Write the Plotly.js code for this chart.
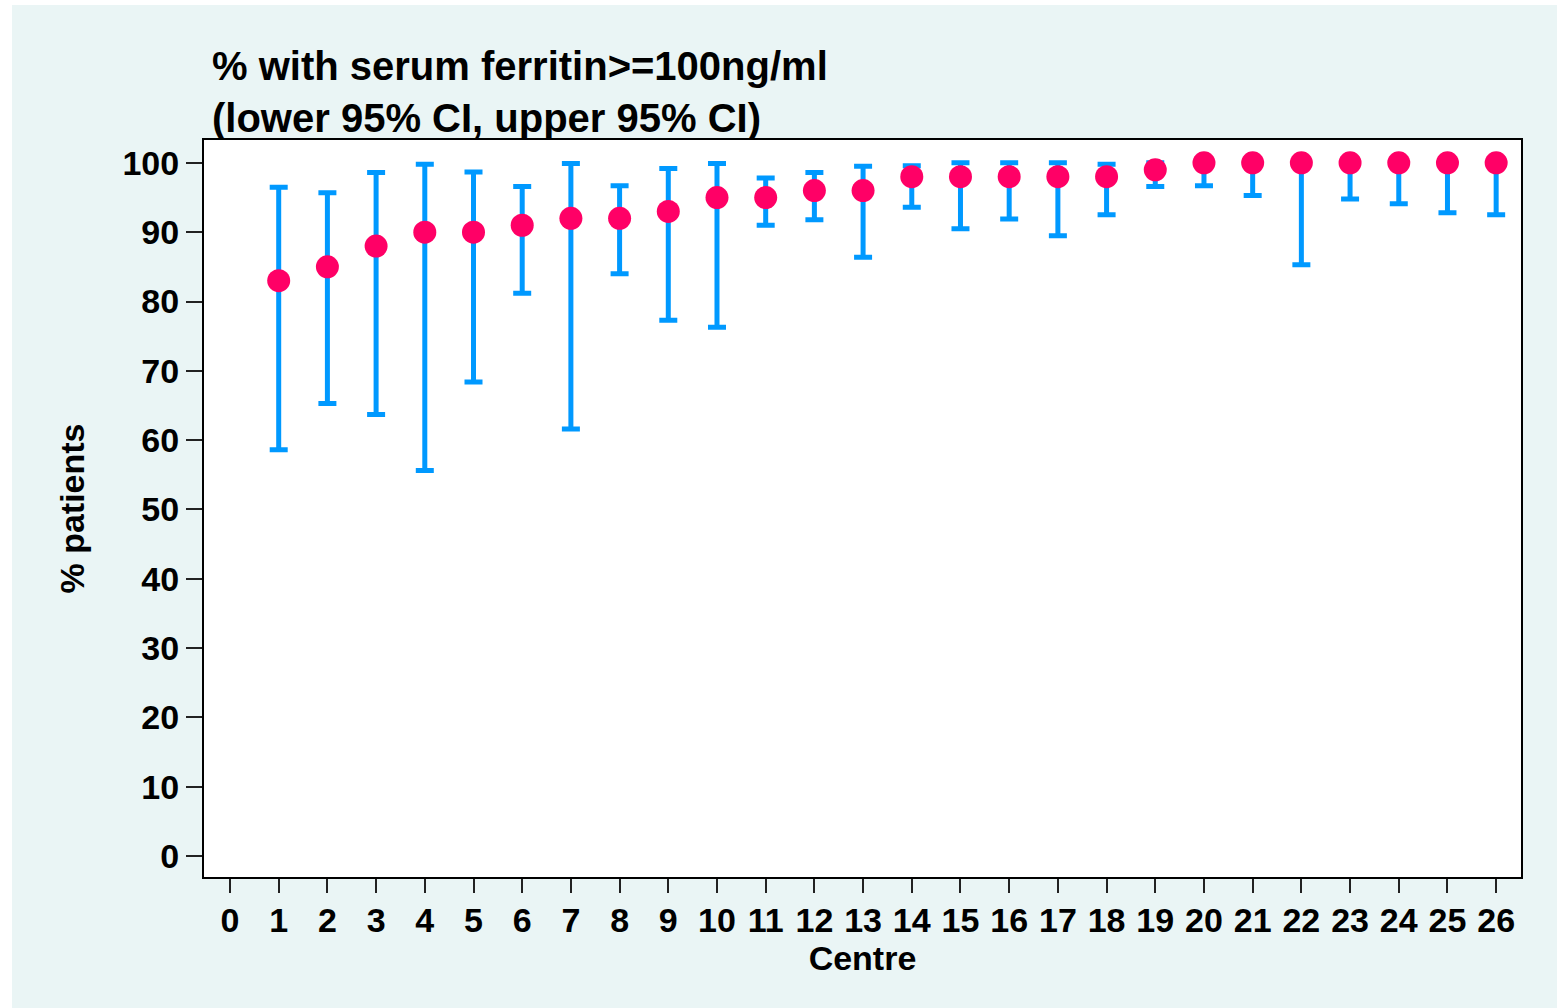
<!DOCTYPE html>
<html>
<head>
<meta charset="utf-8">
<script src="https://cdn.plot.ly/plotly-3.0.1.min.js"></script>
<style>
  html, body { margin: 0; padding: 0; background: #ffffff; }
  #chart { position: absolute; left: 12px; top: 5px; width: 1545px; height: 1003px; }
</style>
</head>
<body>
<div id="chart"></div>
<script>
// Centre numbers
const centres = [1,2,3,4,5,6,7,8,9,10,11,12,13,14,15,16,17,18,19,20,21,22,23,24,25,26];
// % with serum ferritin >= 100 ng/ml
const pct = [83,85,88,90,90,91,92,92,93,95,95,96,96,98,98,98,98,98,99,100,100,100,100,100,100,100];
// lower 95% CI
const lowerCI = [58.6,65.3,63.7,55.6,68.4,81.2,61.6,84.0,77.3,76.3,91.0,91.8,86.4,93.6,90.5,91.9,89.5,92.5,96.6,96.7,95.3,85.3,94.8,94.1,92.8,92.5];
// upper 95% CI
const upperCI = [96.5,95.7,98.6,99.8,98.7,96.6,99.9,96.7,99.2,99.9,97.8,98.6,99.5,99.6,100,100,100,99.8,100,100,100,100,100,100,100,100];
// tick labels
const xTicks = [0,1,2,3,4,5,6,7,8,9,10,11,12,13,14,15,16,17,18,19,20,21,22,23,24,25,26];
const yTicks = [0,10,20,30,40,50,60,70,80,90,100];

const errPlus = pct.map((v, i) => upperCI[i] - v);
const errMinus = pct.map((v, i) => v - lowerCI[i]);

const FONT = 'Liberation Sans, Arial, Helvetica, sans-serif';

const traces = [
  {
    type: 'scatter',
    mode: 'markers',
    x: centres,
    y: pct,
    marker: { size: 1, opacity: 0, color: '#0099ff' },
    error_y: {
      type: 'data',
      symmetric: false,
      array: errPlus,
      arrayminus: errMinus,
      color: '#0099ff',
      thickness: 5,
      width: 9
    },
    hoverinfo: 'skip',
    showlegend: false
  },
  {
    type: 'scatter',
    mode: 'markers',
    x: centres,
    y: pct,
    marker: { size: 23, color: '#ff0066', line: { width: 0 } },
    showlegend: false
  }
];

const axisCommon = {
  showgrid: false,
  zeroline: false,
  showline: true,
  mirror: true,
  linecolor: '#000000',
  linewidth: 2,
  ticks: 'outside',
  tickwidth: 2,
  tickcolor: '#222222',
  tickfont: { family: FONT, size: 34, color: '#000000', weight: 'bold' }
};

const layout = {
  width: 1545,
  height: 1003,
  paper_bgcolor: '#eaf5f5',
  plot_bgcolor: '#ffffff',
  margin: { l: 192, r: 36, t: 135, b: 131, pad: 0 },
  title: {
    text: '% with serum ferritin&gt;=100ng/ml<br>(lower 95% CI, upper 95% CI)',
    font: { family: FONT, size: 40, color: '#000000', weight: 'bold' },
    xref: 'container',
    yref: 'container',
    x: 200 / 1545,
    xanchor: 'left',
    y: 1 - 75 / 1003,
    yanchor: 'top'
  },
  xaxis: Object.assign({}, axisCommon, {
    range: [-0.534, 26.51],
    tickmode: 'array',
    tickvals: xTicks,
    ticktext: xTicks.map(String),
    ticklen: 14,
    ticklabelstandoff: -2,
    title: { text: 'Centre', font: { family: FONT, size: 34, color: '#000000', weight: 'bold' }, standoff: 0 }
  }),
  yaxis: Object.assign({}, axisCommon, {
    range: [-3.03, 103.3],
    tickmode: 'array',
    tickvals: yTicks,
    ticktext: yTicks.map(String),
    ticklen: 16,
    title: { text: '% patients', font: { family: FONT, size: 34, color: '#000000', weight: 'bold' }, standoff: 28 }
  })
};

Plotly.newPlot('chart', traces, layout, { displayModeBar: false, staticPlot: true });
</script>
</body>
</html>
